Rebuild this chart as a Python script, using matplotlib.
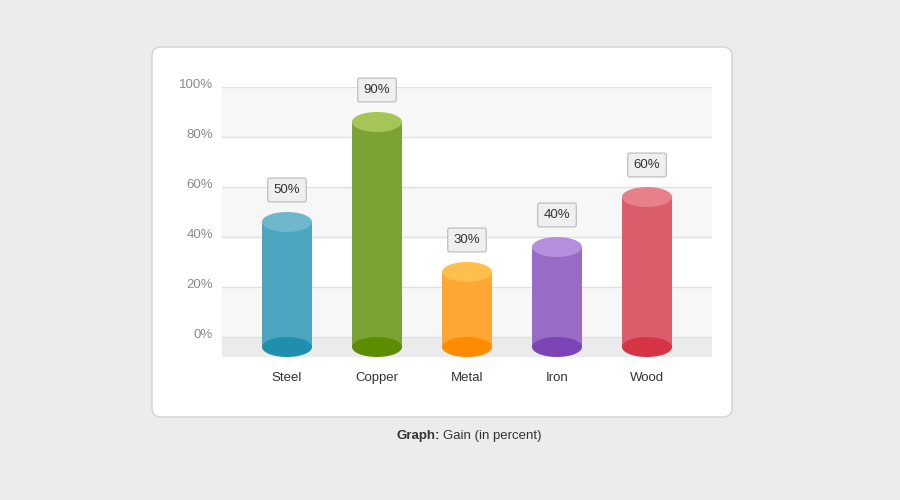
import matplotlib.pyplot as plt
from matplotlib.patches import Ellipse, Rectangle, FancyBboxPatch
from matplotlib.transforms import ScaledTranslation

plt.rcParams['font.family'] = ['Liberation Sans', 'DejaVu Sans']

categories = ['Steel', 'Copper', 'Metal', 'Iron', 'Wood']
gain = [50, 90, 30, 40, 60]
side_colors = ['#4ba5bf', '#7ca233', '#ffa633', '#976bc6', '#db5d6c']
top_colors = ['#6fb7cc', '#a3c657', '#ffbf4d', '#b48fdd', '#e8808b']
bottom_colors = ['#1f8fae', '#5e8c00', '#ff8c00', '#7b45b5', '#d43446']
y_ticks = [0, 20, 40, 60, 80, 100]

BAR_W = 0.556      # cylinder width in category units
ELL_H = 8          # ellipse height in percent units
BASE = -4          # 3d floor offset

fig = plt.figure(figsize=(9, 5), dpi=100, facecolor='#ececec')

# white rounded panel, behind the axes
panel = FancyBboxPatch((1.52, 0.83), 5.80, 3.70, boxstyle='round,pad=0,rounding_size=0.09',
                       transform=fig.dpi_scale_trans, facecolor='white', edgecolor='#d2d2d2',
                       linewidth=1.0, zorder=-10)
fig.patches.append(panel)

ax = fig.add_axes([222 / 900, 143 / 500, 490 / 900, 270 / 500])
ax.set_zorder(5)
ax.set_xlim(-0.722, len(categories) - 1 + 0.722)
ax.set_ylim(-8, 100)

# background bands
for lo in range(0, 100, 20):
    if (lo // 20) % 2 == 0:
        ax.axhspan(lo, lo + 20, color='#f7f7f7', zorder=0, lw=0)
ax.axhspan(-8, 0, color='#ebebeb', zorder=0, lw=0)
for v in y_ticks:
    ax.axhline(v, color='#e0e0e0', lw=1, zorder=1)

for i, v in enumerate(gain):
    x0 = i - BAR_W / 2
    ax.add_patch(Rectangle((x0, BASE), BAR_W, v, facecolor=side_colors[i], lw=0, zorder=2))
    ax.add_patch(Ellipse((i, BASE), BAR_W, ELL_H, facecolor=bottom_colors[i], lw=0, zorder=3))
    ax.add_patch(Ellipse((i, BASE + v), BAR_W, ELL_H, facecolor=top_colors[i], lw=0, zorder=4))
    ax.text(i, v + 8.8, f'{v}%', ha='center', va='center', fontsize=9.5, color='#333333',
            zorder=5, bbox=dict(boxstyle='round,pad=0.45,rounding_size=0.15', fc='#efefef',
                                ec='#b8b8b8', lw=0.8))

ax.set_xticks(range(len(categories)))
ax.set_xticklabels(categories, fontsize=9.5, color='#333333', va='baseline')
ax.set_yticks(y_ticks)
ax.set_yticklabels([f'{v}%' for v in y_ticks], fontsize=9.5, color='#8a8a8a')
ax.tick_params(axis='x', length=0, pad=17)
ax.tick_params(axis='y', length=0, pad=6.5)
for lab in ax.get_yticklabels():
    lab.set_transform(lab.get_transform() + ScaledTranslation(0, 3 / 100, fig.dpi_scale_trans))
for s in ax.spines.values():
    s.set_visible(False)
ax.set_facecolor('white')

fig.text(440 / 900, 1 - 436 / 500, 'Graph:', ha='right', va='center', fontsize=9.5,
         fontweight='bold', color='#333333')
fig.text(443 / 900, 1 - 436 / 500, 'Gain (in percent)', ha='left', va='center',
         fontsize=9.5, color='#333333')

fig.savefig('out.png', dpi=100, facecolor=fig.get_facecolor())
